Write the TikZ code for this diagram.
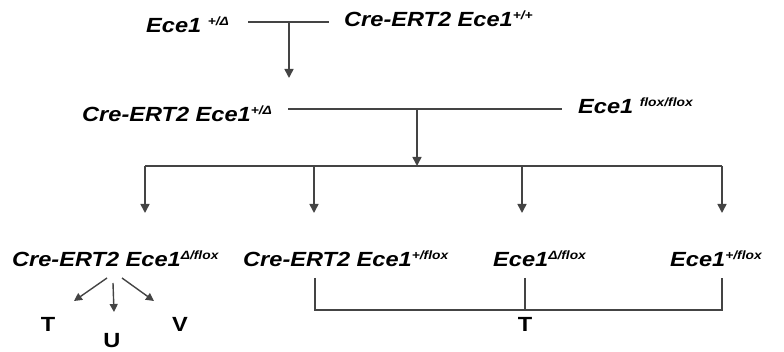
\documentclass[tikz,border=0pt]{standalone}
\usepackage{fontspec}
\setmainfont{Liberation Sans}[FakeStretch=1.15]
\usetikzlibrary{arrows.meta}
\newcommand{\sups}[1]{{\fontsize{12}{12}\selectfont\raisebox{7pt}{#1}}}
\definecolor{linegray}{HTML}{444444}
\tikzset{
  geno/.style={inner sep=0pt, anchor=base west, font=\fontsize{20.5}{22}\selectfont\bfseries\itshape},
  lbl/.style={inner sep=0pt, anchor=base, font=\fontsize{20.5}{22}\selectfont\bfseries},
  ln/.style={draw=linegray, line width=1.6pt},
  arr/.style={ln, -{Triangle[width=9pt,length=9pt]}},
  sarr/.style={draw=linegray, line width=1.4pt, -{Triangle[width=8pt,length=8pt]}},
}
\begin{document}
\begin{tikzpicture}[x=1pt,y=1pt]
\useasboundingbox (0,0) rectangle (784,-352);
% row 1
\node[geno] (a) at (146,-33) {Ece1 \sups{+/Δ}};
\node[geno] (b) at (344,-27) {Cre-ERT2 Ece1\sups{+/+}};
\coordinate (l1a) at (248,-22);
\coordinate (l1b) at (329,-22);
\coordinate (m1) at (289,-22);
\coordinate (m1e) at (289,-78);
\draw[ln] (l1a) -- (l1b);
\draw[arr] (m1) -- (m1e);
% row 2
\node[geno] (c) at (82,-122) {Cre-ERT2 Ece1\sups{+/Δ}};
\node[geno] (d) at (578,-114) {Ece1 \sups{flox/flox}};
\coordinate (l2a) at (288,-109);
\coordinate (l2b) at (562,-109);
\coordinate (m2) at (417,-109);
\coordinate (m2e) at (417,-166);
\draw[ln] (l2a) -- (l2b);
\draw[arr] (m2) -- (m2e);
% row 3
\coordinate (r3a) at (145,-166);
\coordinate (r3b) at (314,-166);
\coordinate (r3c) at (522,-166);
\coordinate (r3d) at (722,-166);
\draw[ln] (r3a) -- (r3d);
\foreach \p in {r3a,r3b,r3c,r3d}{\draw[arr] (\p) -- ++(0,-47);}
% row 4
\node[geno] (e) at (12,-267) {Cre-ERT2 Ece1\sups{Δ/flox}};
\node[geno] (f) at (243,-267) {Cre-ERT2 Ece1\sups{+/flox}};
\node[geno] (g) at (493,-267) {Ece1\sups{Δ/flox}};
\node[geno] (h) at (670,-267) {Ece1\sups{+/flox}};
% small arrows
\node[lbl] (t1) at (48,-332) {T};
\node[lbl] (u1) at (112,-348) {U};
\node[lbl] (v1) at (180,-332) {V};
\coordinate (s1) at (107,-278);
\coordinate (s1e) at (74,-301);
\coordinate (s2) at (113,-283);
\coordinate (s2e) at (114,-312);
\coordinate (s3) at (122,-278);
\coordinate (s3e) at (154,-301);
\draw[sarr] (s1) -- (s1e);
\draw[sarr] (s2) -- (s2e);
\draw[sarr] (s3) -- (s3e);
% bracket
\coordinate (k1) at (315,-278);
\coordinate (k2) at (525,-278);
\coordinate (k3) at (722,-278);
\draw[ln] (k1) -- (k1 |- 0,-310) -- (k3 |- 0,-310) -- (k3);
\draw[ln] (k2) -- (k2 |- 0,-310);
\node[lbl] (t2) at (525,-332) {T};
\end{tikzpicture}
\end{document}
